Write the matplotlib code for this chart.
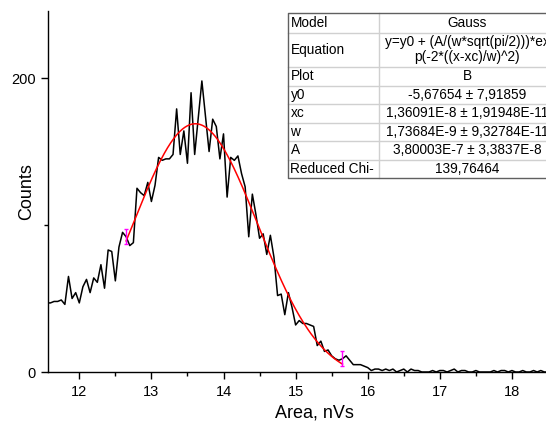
import numpy as np
import matplotlib
matplotlib.use("Agg")
import matplotlib.pyplot as plt

plt.rcParams["font.family"] = ["Liberation Sans", "DejaVu Sans"]

# histogram of pulse areas, bin width 0.05 nVs
x_start, x_step = 11.55, 0.05
counts = [
    47, 47, 48, 48, 49, 46, 65, 50, 54, 47,
    58, 63, 54, 64, 61, 73, 57, 83, 82, 62,
    85, 95, 92, 86, 88, 125, 122, 120, 129, 116,
    127, 146, 144, 145, 145, 148, 179, 148, 164, 142,
    190, 148, 173, 198, 174, 150, 172, 167, 145, 162,
    119, 146, 144, 147, 135, 126, 92, 121, 107, 91,
    94, 80, 93, 78, 52, 53, 39, 54, 44, 32,
    35, 33, 33, 32, 31, 18, 21, 14, 15, 11,
    9, 8, 9, 11, 8, 5, 5, 5, 4, 3,
    1, 2, 2, 1, 2, 1, 2, 0, 1, 2,
    0, 2, 1, 1, 0, 0, 0, 1, 0, 1,
    1, 0, 1, 2, 0, 1, 1, 0, 0, 1,
    0, 0, 0, 0, 1, 0, 1, 1, 0, 1,
    0, 0, 1, 0, 0, 1, 0, 1, 0, 0,
]
area = x_start + x_step * np.arange(len(counts))

# Gauss fit results (x in nVs)
y0 = -5.67654
xc = 13.6091
w = 1.73684
A = 380.003
fit_lo, fit_hi = 12.65, 15.65

table_rows = [
    ("Model", ["Gauss"]),
    ("Equation", ["y=y0 + (A/(w*sqrt(pi/2)))*ex", "p(-2*((x-xc)/w)^2)"]),
    ("Plot", ["B"]),
    ("y0", ["-5,67654 \u00b1 7,91859"]),
    ("xc", ["1,36091E-8 \u00b1 1,91948E-11"]),
    ("w", ["1,73684E-9 \u00b1 9,32784E-11"]),
    ("A", ["3,80003E-7 \u00b1 3,3837E-8"]),
    ("Reduced Chi-", ["139,76464"]),
]


def gauss(x):
    return y0 + A / (w * np.sqrt(np.pi / 2)) * np.exp(-2 * ((x - xc) / w) ** 2)


W, H = 546, 424
fig = plt.figure(figsize=(W / 100, H / 100), dpi=100)
ax = fig.add_axes([48 / W, (H - 372) / H, (580 - 48) / W, (372 - 11) / H])

ax.plot(area, counts, color="black", lw=1.1, zorder=2)
xf = np.linspace(fit_lo, fit_hi, 200)
ax.plot(xf, gauss(xf), color="red", lw=1.1, zorder=3)

# fit range markers
for xm in (fit_lo, fit_hi):
    ym = np.interp(xm, area, counts)
    ax.errorbar([xm], [ym], yerr=5, color="magenta", lw=1.0,
                capsize=1.5, capthick=1.0, zorder=4)

ax.set_xlim(11.566, 18.944)
ax.set_ylim(0, 245.6)
ax.set_xticks(range(12, 19))
ax.set_xticks(np.arange(12.5, 18.6, 1.0), minor=True)
ax.set_yticks([0, 200])
ax.set_yticks([100], minor=True)

for side in ("top", "right"):
    ax.spines[side].set_visible(False)
for side in ("left", "bottom"):
    ax.spines[side].set_linewidth(1.0)
ax.tick_params(which="major", direction="out", length=5, width=1.0,
               labelsize=10.5, pad=4)
ax.tick_params(which="minor", direction="out", length=3, width=1.0)

ax.set_xlabel("Area, nVs", fontsize=13, va="center")
ax.set_ylabel("Counts", fontsize=13, va="center")
ax.xaxis.set_label_coords((314 - 48) / (580 - 48), -(413 - 372) / (372 - 11))
ax.yaxis.set_label_coords(-(48 - 27) / (580 - 48), 0.5)

# results table in pixel coordinates
tab = fig.add_axes([0, 0, 1, 1], facecolor="none")
tab.set_xlim(0, W)
tab.set_ylim(H, 0)
tab.axis("off")

row_edges = [13.3, 32.5, 66.7, 85.7, 104, 122.5, 141, 159.5, 178.3]
left, mid, right = 287.5, 378.7, 556
tab.fill_between([left, W], row_edges[0], row_edges[-1], color="white", zorder=1)
for yl in row_edges[1:-1]:
    tab.plot([left, right], [yl, yl], color="#d0d0d0", lw=1.0, zorder=2)
tab.plot([mid, mid], [row_edges[0], row_edges[-1]], color="#d0d0d0", lw=1.0, zorder=2)
tab.plot([right, left, left, right], [row_edges[0], row_edges[0], row_edges[-1], row_edges[-1]],
         color="#606060", lw=1.0, zorder=3)

center_x = (mid + right) / 2
for i, (name, vals) in enumerate(table_rows):
    y_top, y_bot = row_edges[i], row_edges[i + 1]
    yc = (y_top + y_bot) / 2
    tab.text(left + 3, yc, name, fontsize=9.8, ha="left", va="center", zorder=4)
    n = len(vals)
    for j, v in enumerate(vals):
        yy = yc + (j - (n - 1) / 2) * 15
        tab.text(center_x, yy, v, fontsize=9.8, ha="center", va="center", zorder=4)

fig.savefig("out.png", dpi=100)
